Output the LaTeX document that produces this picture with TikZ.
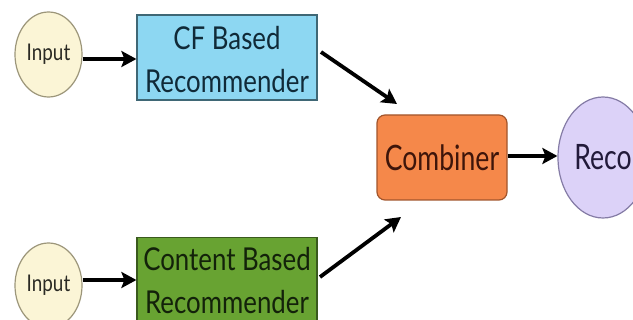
\documentclass[tikz,border=0pt]{standalone}
\usepackage{fontspec}
\setmainfont{Lato}
\newfontfamily\boxfont[FakeStretch=0.82]{Lato}
\newfontfamily\tightfont[FakeStretch=0.76]{Lato}
\usetikzlibrary{shapes.geometric,arrows.meta}
\definecolor{inputfill}{HTML}{FBF5D6}
\definecolor{inputline}{HTML}{9C967A}
\definecolor{cffill}{HTML}{8DD7F2}
\definecolor{cfline}{HTML}{3F6775}
\definecolor{cftext}{HTML}{102A38}
\definecolor{cbfill}{HTML}{68A332}
\definecolor{cbline}{HTML}{3A5A1E}
\definecolor{cbtext}{HTML}{13220A}
\definecolor{combfill}{HTML}{F5884A}
\definecolor{combline}{HTML}{A2552C}
\definecolor{combtext}{HTML}{3E150A}
\definecolor{recofill}{HTML}{DCD2F8}
\definecolor{recoline}{HTML}{857CA6}
\definecolor{recotext}{HTML}{221A3A}
\definecolor{inputtext}{HTML}{2A2A24}
\tikzset{
  inputnode/.style={ellipse, draw=inputline, fill=inputfill, line width=1.2pt,
    minimum width=67pt, minimum height=85pt, inner sep=0pt,
    font=\boxfont\fontsize{23}{25}\selectfont, text=inputtext},
  recbox/.style={rectangle, draw, line width=1.2pt, minimum width=180pt,
    minimum height=85pt, inner sep=0pt},
  rectext/.style={align=center, inner sep=0pt,
    font=\boxfont\fontsize{31.5}{43}\selectfont},
  combbox/.style={rectangle, rounded corners=8pt, draw=combline, fill=combfill,
    line width=1.2pt, minimum width=130pt, minimum height=85pt, inner sep=0pt,
    font=\tightfont\fontsize{35}{37}\selectfont, text=combtext},
  reconode/.style={ellipse, draw=recoline, fill=recofill, line width=1.2pt,
    minimum width=90pt, minimum height=121pt, inner sep=0pt,
    font=\tightfont\fontsize{35}{37}\selectfont, text=recotext},
  flow/.style={line width=3.8pt, black, -{Stealth[length=15pt,width=16pt,inset=3pt]}}
}
\begin{document}
\begin{tikzpicture}[x=1pt,y=-1pt]
\useasboundingbox (0,0) rectangle (633,320);
\fill[white] (0,0) rectangle (633,320);

% upper branch
\node[inputnode] (in1) at (48.5,54.5) {Input};
\node[recbox, draw=cfline, fill=cffill] (cf) at (227,57.5) {};
\node[rectext, text=cftext] (cftxt) at (227,60) {CF Based\\Recommender};

% lower branch
\node[inputnode] (in2) at (48.5,285.5) {Input};
\node[recbox, draw=cbline, fill=cbfill, minimum height=100pt] (cb) at (227,287.5) {};
\node[rectext, text=cbtext] (cbtxt) at (227,281) {Content Based\\Recommender};

% merge and output
\node[combbox] (comb) at (442,157.5) {Combiner};
\node[reconode] (reco) at (603,157.5) {Reco};

\coordinate (cfout) at (321,52);
\coordinate (cfin) at (397,104);
\coordinate (cbout) at (320,277);
\coordinate (cbin) at (401,217);

\draw[flow] (in1.east |- 0,59) -- (cf.west |- 0,59);
\draw[flow] (in2.east |- 0,280) -- (cb.west |- 0,280);
\draw[flow] (cfout) -- (cfin);
\draw[flow] (cbout) -- (cbin);
\draw[flow] (comb.east |- 0,156) -- (reco.west |- 0,156);
\end{tikzpicture}
\end{document}
